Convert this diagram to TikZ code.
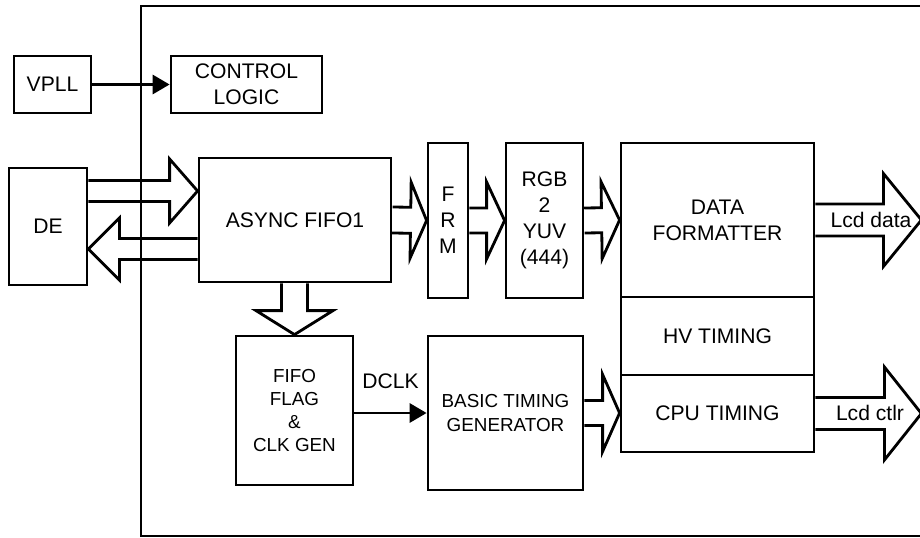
\documentclass[tikz,border=0pt]{standalone}
\usepackage{fontspec}
\setmainfont{Liberation Sans}
\usetikzlibrary{arrows.meta,calc}

\newdimen\px
\px=0.025cm

% wide bus arrow: start, tip, shaft half width, head half width, head length
\newcommand{\bus}[5]{%
  \path (#1) coordinate (bs) (#2) coordinate (bt) ($(bt)!#5\px!(bs)$) coordinate (bb);
  \draw[busline] ($(bs)!#3\px!-90:(bt)$) -- ($(bb)!#3\px!-90:(bt)$) -- ($(bb)!#4\px!-90:(bt)$) -- (bt)
    -- ($(bb)!#4\px!90:(bt)$) -- ($(bb)!#3\px!90:(bt)$) -- ($(bs)!#3\px!90:(bt)$);}

\begin{document}
\begin{tikzpicture}[x=0.025cm,y=-0.025cm,
  >={Triangle[length=12pt,width=13.5pt]},
  blk/.style={draw,line width=2pt,align=center,inner sep=0pt,font=\fontsize{15pt}{18.4pt}\selectfont},
  sblk/.style={blk,font=\fontsize{13.4pt}{16.5pt}\selectfont},
  busline/.style={line width=2pt},
  sig/.style={->,line width=2pt},
  lbl/.style={inner sep=0pt,font=\fontsize{15pt}{18.4pt}\selectfont}]
  \useasboundingbox (0,0) rectangle (920,538);
  \clip (0,0) rectangle (920,538);

  % chip frame
  \draw[line width=2pt] (940,6) -- (141,6) -- (141,536) -- (940,536);

  \node[blk,minimum width=77\px,minimum height=57\px] (vpll) at (52.5,84.5) {VPLL};
  \node[blk,minimum width=151\px,minimum height=57\px] (ctrl) at (246.5,84.5) {CONTROL\\LOGIC};
  \node[blk,minimum width=78\px,minimum height=117\px] (de) at (48,226.5) {DE};
  \node[blk,minimum width=192\px,minimum height=124\px] (fifo) at (295,220) {ASYNC FIFO1};
  \node[blk,minimum width=40\px,minimum height=155\px] (frm) at (448,220.5) {F\\R\\M};
  \node[blk,minimum width=77\px,minimum height=155\px] (rgb) at (544.5,220.5) {RGB\\2\\YUV\\(444)};
  \node[blk,minimum width=193\px,minimum height=154\px] (data) at (717.5,220) {DATA\\FORMATTER};
  \node[blk,minimum width=193\px,minimum height=78\px] (hv) at (717.5,336) {HV TIMING};
  \node[blk,minimum width=193\px,minimum height=77\px] (cpu) at (717.5,413.5) {CPU TIMING};
  \node[sblk,minimum width=117\px,minimum height=149\px] (flag) at (294.5,410.5) {FIFO\\FLAG\\\&\\CLK GEN};
  \node[sblk,minimum width=155\px,minimum height=154\px] (btg) at (505.5,413) {BASIC TIMING\\GENERATOR};

  \node[lbl] (lcdd) at (871,219.5) {Lcd data};
  \node[lbl] (lcdc) at (870,413) {Lcd ctlr};

  \coordinate (in1) at ([yshift=29\px]fifo.west);
  \coordinate (out1) at ([yshift=-22.5\px]de.east);
  \coordinate (dout) at ([xshift=106\px]data.east);
  \coordinate (cout) at ([xshift=106\px]cpu.east);

  \draw[sig] (vpll) -- (ctrl);
  \draw[sig] (flag.east |- btg.west) -- node[lbl,above=16.5pt] (dclk) {DCLK} (btg.west);

  \bus{de.east |- in1}{in1}{10.5}{32}{28}
  \bus{fifo.west |- out1}{out1}{10.5}{31}{31}
  \bus{fifo.east}{frm.west}{13}{38}{16}
  \bus{frm.east}{rgb.west}{12.5}{38.5}{18}
  \bus{rgb.east}{data.west}{12.5}{38.5}{18}
  \bus{data.east}{dout}{16}{46.5}{38}
  \bus{cpu.east}{cout}{16}{46.5}{37}
  \bus{flag.north |- fifo.south}{flag.north}{13}{38.5}{24}
  \bus{btg.east}{cpu.west |- btg.east}{12.5}{38.5}{17}
\end{tikzpicture}
\end{document}
